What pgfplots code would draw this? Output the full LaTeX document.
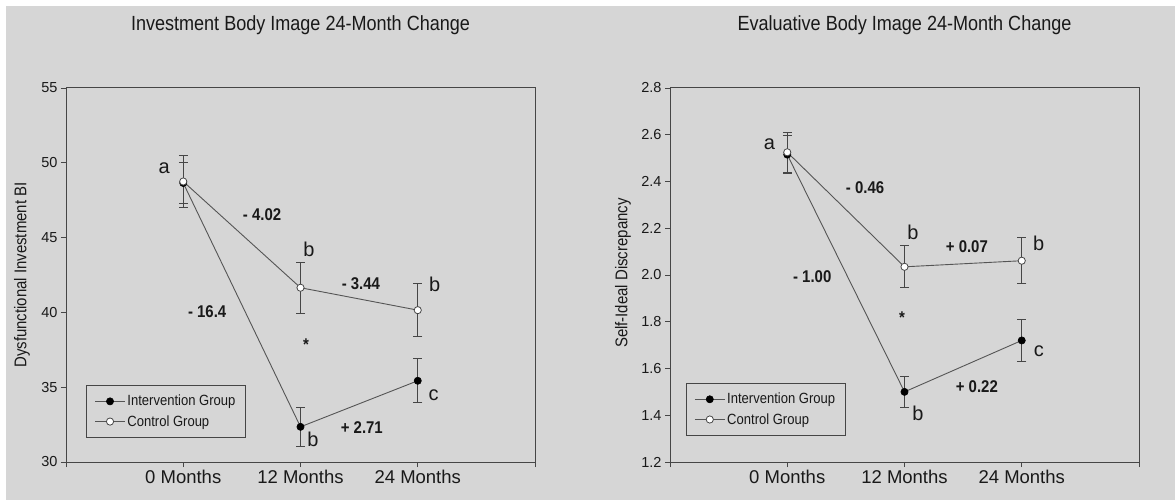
\documentclass[border=0pt]{standalone}
\usepackage{fontspec}
\setmainfont{Liberation Sans}
\newfontfamily\cond[FakeStretch=0.88]{Liberation Sans}
\usepackage{pgfplots}
\pgfplotsset{compat=1.18}
\definecolor{bg}{RGB}{214,214,214}
\definecolor{ax}{RGB}{70,70,70}
\definecolor{ln}{RGB}{85,85,85}
\definecolor{txt}{RGB}{25,25,25}

\tikzset{
  lab/.style={font=\fontsize{20bp}{22bp}\selectfont, text=txt},
  num/.style={font=\cond\fontsize{17bp}{19bp}\selectfont\bfseries, text=txt},
}
\pgfplotsset{
  panel/.style={
    scale only axis, width=469bp, height=374bp,
    anchor=south west,
    xmin=-1, xmax=3,
    xtick={-1,0,1,2,3},
    xticklabels={,0 Months,12 Months,24 Months,},
    tick pos=left, tick align=outside,
    major tick length=5bp,
    axis line style={ax, line width=1bp},
    every tick/.style={ax, line width=0.9bp},
    xticklabel style={font=\fontsize{18.5bp}{20bp}\selectfont, text=txt},
    yticklabel style={font=\fontsize{14.5bp}{16bp}\selectfont, text=txt},
    /pgf/number format/assume math mode=true,
    label style={font=\cond\fontsize{17bp}{19bp}\selectfont, text=txt},
    title style={font=\cond\fontsize{20.5bp}{22bp}\selectfont, text=txt, at={(axis description cs:0.5,1)}, anchor=center, yshift=57bp},
    legend style={draw=ax, fill=bg, line width=0.8bp, font=\cond\fontsize{14.8bp}{16bp}\selectfont, text=txt, inner xsep=8bp, inner ysep=8bp, row sep=4bp,
      /tikz/every even column/.append style={column sep=5bp}},
    legend cell align=left,
    legend image code/.code={\draw[mark repeat=2,mark phase=2] plot coordinates {(0bp,0bp) (15bp,0bp) (30bp,0bp)};},
    clip=false,
  },
  intv/.style={ln, line width=0.9bp, mark=*, mark size=3.6bp, mark options={fill=black, draw=black, line width=0.6bp},
    error bars/.cd, y dir=both, y explicit, error bar style={ax, line width=0.9bp}, error mark options={ax, line width=0.9bp, mark size=4.5bp, rotate=90}},
  ctrl/.style={ln, line width=0.9bp, mark=*, mark size=3.6bp, mark options={fill=white, draw=ax, line width=0.8bp},
    error bars/.cd, y dir=both, y explicit, error bar style={ax, line width=0.9bp}, error mark options={ax, line width=0.9bp, mark size=4.5bp, rotate=90}},
}

\begin{document}
\begin{tikzpicture}
\fill[white] (0,0) rectangle (1175bp,500bp);
\fill[bg] (6bp,0) rectangle (1175bp,494bp);

% ---------------- Left panel ----------------
\begin{axis}[panel, at={(66bp,38bp)},
  ymin=30, ymax=55, ytick={30,35,40,45,50,55},
  ylabel={Dysfunctional Investment BI},
  ylabel style={at={(axis description cs:-0.094,0.5)}, anchor=center},
  title={Investment Body Image 24-Month Change},
  legend style={at={(0.043,0.064)}, anchor=south west},
]
\addplot[intv] table[x=x, y=y, y error=e] {
x y e
0 48.65 1.40
1 32.35 1.30
2 35.43 1.46
};
\addlegendentry{Intervention Group}
\addplot[ctrl] table[x=x, y=y, y error=e] {
x y e
0 48.75 1.75
1 41.65 1.72
2 40.15 1.77
};
\addlegendentry{Control Group}
\node[lab] at (axis cs:-0.162,49.65) {a};
\node[num] at (axis cs:0.672,46.51) {- 4.02};
\node[lab] at (axis cs:1.072,44.24) {b};
\node[num] at (axis cs:1.515,41.90) {- 3.44};
\node[lab] at (axis cs:2.145,41.90) {b};
\node[num] at (axis cs:0.204,40.03) {- 16.4};
\node[num] at (axis cs:1.047,37.82) {*};
\node[lab] at (axis cs:1.106,31.54) {b};
\node[num] at (axis cs:1.523,32.27) {+ 2.71};
\node[lab] at (axis cs:2.136,34.48) {c};
\end{axis}

% ---------------- Right panel ----------------
\begin{axis}[panel, at={(670bp,38bp)},
  ymin=1.2, ymax=2.8, ytick={1.2,1.4,1.6,1.8,2.0,2.2,2.4,2.6,2.8},
  yticklabel style={/pgf/number format/.cd, fixed, fixed zerofill, precision=1},
  ylabel={Self-Ideal Discrepancy},
  ylabel style={at={(axis description cs:-0.100,0.505)}, anchor=center},
  title={Evaluative Body Image 24-Month Change},
  legend style={at={(0.034,0.0695)}, anchor=south west},
]
\addplot[intv] table[x=x, y=y, y error=e] {
x y e
0 2.515 0.080
1 1.500 0.068
2 1.720 0.090
};
\addlegendentry{Intervention Group}
\addplot[ctrl] table[x=x, y=y, y error=e] {
x y e
0 2.525 0.085
1 2.035 0.090
2 2.061 0.098
};
\addlegendentry{Control Group}
\node[lab] at (axis cs:-0.153,2.560) {a};
\node[num] at (axis cs:0.664,2.372) {- 0.46};
\node[lab] at (axis cs:1.072,2.184) {b};
\node[num] at (axis cs:1.532,2.120) {+ 0.07};
\node[lab] at (axis cs:2.145,2.137) {b};
\node[num] at (axis cs:0.213,1.991) {- 1.00};
\node[num] at (axis cs:0.979,1.816) {*};
\node[lab] at (axis cs:1.115,1.410) {b};
\node[num] at (axis cs:1.617,1.521) {+ 0.22};
\node[lab] at (axis cs:2.145,1.675) {c};
\end{axis}
\end{tikzpicture}
\end{document}
